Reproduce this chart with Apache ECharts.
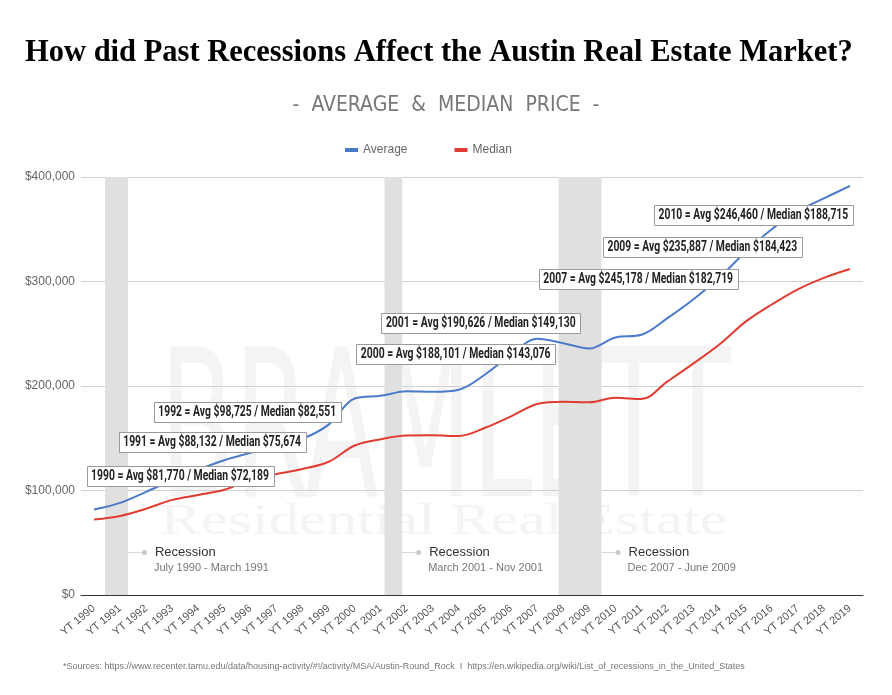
<!DOCTYPE html>
<html>
<head>
<meta charset="utf-8">
<script src="https://cdn.jsdelivr.net/npm/echarts@6/dist/echarts.min.js"></script>
<style>
html,body{margin:0;padding:0;background:#fff;}
#chart{width:892px;height:695px;}
</style>
</head>
<body>
<div id="chart"></div>
<script>
// ---------- DATA ----------
const years = ['YT 1990','YT 1991','YT 1992','YT 1993','YT 1994','YT 1995','YT 1996','YT 1997','YT 1998','YT 1999',
  'YT 2000','YT 2001','YT 2002','YT 2003','YT 2004','YT 2005','YT 2006','YT 2007','YT 2008','YT 2009',
  'YT 2010','YT 2011','YT 2012','YT 2013','YT 2014','YT 2015','YT 2016','YT 2017','YT 2018','YT 2019'];
const averagePrice = [81770, 88132, 98725, 110000, 120000, 129000, 136000, 143000, 149500, 163000,
  188101, 190626, 195000, 194500, 196500, 211000, 230000, 245178, 241000, 235887,
  246460, 249000, 265000, 283000, 304000, 328500, 350000, 367500, 379500, 391500];
const medianPrice = [72189, 75674, 82551, 91000, 95700, 100800, 109500, 115700, 120600, 127500,
  143076, 149130, 152600, 152800, 152200, 160000, 171000, 182719, 185000, 184423,
  188715, 187500, 204400, 221700, 240000, 261600, 278000, 292500, 303500, 312000];
const yTicks = [0, 100000, 200000, 300000, 400000];
// recessions (fractional years)
const recessionStart = [1990.42, 2001.14, 2007.82];
const recessionEnd = [1991.30, 2001.82, 2009.47];
const recessionLabel = ['July 1990 - March 1991', 'March 2001 - Nov 2001', 'Dec 2007 - June 2009'];
// annotated years
const annotatedYears = ['YT 1990','YT 1991','YT 1992','YT 2000','YT 2001','YT 2007','YT 2009','YT 2010'];
const sourcesText = '*Sources: https://www.recenter.tamu.edu/data/housing-activity/#!/activity/MSA/Austin-Round_Rock  I  https://en.wikipedia.org/wiki/List_of_recessions_in_the_United_States';

// ---------- LAYOUT (styles) ----------
const annotationOffsets = [[86,-34],[92,-61],[101,-80],[101,-44],[100,-73],[101,-60],[113,-101],[138,-122]];
const annotationFont = 'bold 14px Roboto, "Liberation Sans", sans-serif';
const annotationScaleX = 0.74;
const firstYear = 1990;
const fmt = v => '$' + v.toLocaleString('en-US');
const sans = '"Liberation Sans", Arial, sans-serif';
const narrow = '"DejaVu Sans Condensed", sans-serif';

const chart = echarts.init(document.getElementById('chart'));

const markAreaData = recessionStart.map((s, k) => [
  {
    xAxis: s - firstYear,
    label: { formatter: '{ln|}{dot|}{t|Recession}\n{s|' + recessionLabel[k] + '}' }
  },
  { xAxis: recessionEnd[k] - firstYear }
]);

const watermark = [
  {
    id: 'wm1', type: 'text', left: 160, top: 340, z: -10, scaleX: 0.587,
    style: { text: 'BRAMLETT', font: '205px ' + narrow, fill: '#f4f4f4' }
  },
  {
    id: 'wm2', type: 'text', left: 160, top: 500, z: -10, scaleX: 1.39,
    style: { text: 'Residential Real Estate', font: '44px "Liberation Serif", serif', fill: '#f4f4f4' }
  }
];

chart.setOption({
  animation: false,
  backgroundColor: '#fff',
  title: [
    {
      text: 'How did Past Recessions Affect the Austin Real Estate Market?',
      left: 20, top: 33,
      textStyle: { fontFamily: '"Liberation Serif", serif', fontWeight: 'bold', fontSize: 30.5, color: '#000' }
    },
    {
      text: '-  AVERAGE  &  MEDIAN  PRICE  -',
      left: 'center', top: 90,
      textStyle: { fontFamily: narrow, fontWeight: 'normal', fontSize: 21, color: '#777' }
    },
    {
      text: sourcesText,
      left: 58, top: 657,
      textStyle: { fontFamily: sans, fontWeight: 'normal', fontSize: 9, color: '#777' }
    }
  ],
  legend: {
    left: 340, top: 139,
    icon: 'rect', itemWidth: 13, itemHeight: 4, itemGap: 47,
    textStyle: { fontFamily: sans, fontSize: 12, color: '#666' },
    data: ['Average', 'Median']
  },
  graphic: watermark,
  grid: { left: 81, right: 29, top: 177, bottom: 100, containLabel: false },
  xAxis: [
    {
      type: 'category', data: years, boundaryGap: true,
      axisLine: { lineStyle: { color: '#333', width: 1 } },
      axisTick: { show: false },
      axisLabel: { rotate: 40, interval: 0, fontFamily: sans, fontSize: 11, color: '#555', margin: 12 },
      splitLine: { show: false }
    },
    { type: 'value', min: -0.5, max: years.length - 0.5, show: false }
  ],
  yAxis: {
    type: 'value', min: 0, max: 400000, interval: 100000,
    axisLine: { show: false }, axisTick: { show: false },
    axisLabel: {
      fontFamily: sans, fontSize: 12, color: '#666', margin: 6,
      formatter: v => yTicks.indexOf(v) >= 0 ? '$' + v.toLocaleString('en-US') : ''
    },
    splitLine: { lineStyle: { color: '#d0d0d0', width: 1 } }
  },
  series: [
    {
      name: 'recessions', type: 'line', xAxisIndex: 1, data: [], silent: true,
      markArea: {
        silent: true,
        itemStyle: { color: '#e1e0e0' },
        label: {
          show: true, position: ['100%', '87.9%'], align: 'left', verticalAlign: 'top',
          rich: {
            ln: { width: 14, height: 1, backgroundColor: '#d4d4d4', verticalAlign: 'middle' },
            dot: { width: 5, height: 5, borderRadius: 3, backgroundColor: '#c9c9c9', verticalAlign: 'middle' },
            t: { fontFamily: sans, fontSize: 13, color: '#333', padding: [0,0,0,8], lineHeight: 16, verticalAlign: 'middle' },
            s: { fontFamily: sans, fontSize: 11, color: '#777', padding: [0,0,0,26], lineHeight: 16 }
          }
        },
        data: markAreaData
      }
    },
    {
      name: 'Average', type: 'line', data: averagePrice, smooth: 0.35,
      showSymbol: false, symbol: 'none',
      lineStyle: { color: '#4a7ac9', width: 2 }, itemStyle: { color: '#4a7ac9' },
      z: 3
    },
    {
      name: 'Median', type: 'line', data: medianPrice, smooth: 0.35,
      showSymbol: false, symbol: 'none',
      lineStyle: { color: '#e03c31', width: 2 }, itemStyle: { color: '#e03c31' },
      z: 2
    }
  ]
});

// Annotation boxes, anchored to the data points of the Average series
(function () {
  const ctx = document.createElement('canvas').getContext('2d');
  ctx.font = annotationFont;
  const els = [];
  annotatedYears.forEach((y, k) => {
    const i = years.indexOf(y);
    const p = chart.convertToPixel({ xAxisIndex: 0, yAxisIndex: 0 }, [i, averagePrice[i]]);
    const text = y.replace('YT ', '') + ' = Avg ' + fmt(averagePrice[i]) + ' / Median ' + fmt(medianPrice[i]);
    const w = ctx.measureText(text).width * annotationScaleX + 9;
    const h = 20;
    const cx = p[0] + annotationOffsets[k][0];
    const cy = p[1] + annotationOffsets[k][1];
    els.push({
      id: 'box' + k, type: 'rect', z: 100, silent: true,
      shape: { x: Math.round(cx - w / 2) + 0.5, y: Math.round(cy - h / 2) + 0.5, width: Math.round(w), height: h },
      style: { fill: '#fff', stroke: '#9a9a9a', lineWidth: 1 }
    });
    els.push({
      id: 'txt' + k, type: 'text', z: 101, silent: true,
      x: cx, y: cy + 0.5, scaleX: annotationScaleX,
      style: { text: text, font: annotationFont, fill: '#222', align: 'center', verticalAlign: 'middle' }
    });
  });
  chart.setOption({ graphic: watermark.concat(els) });
})();
</script>
</body>
</html>
